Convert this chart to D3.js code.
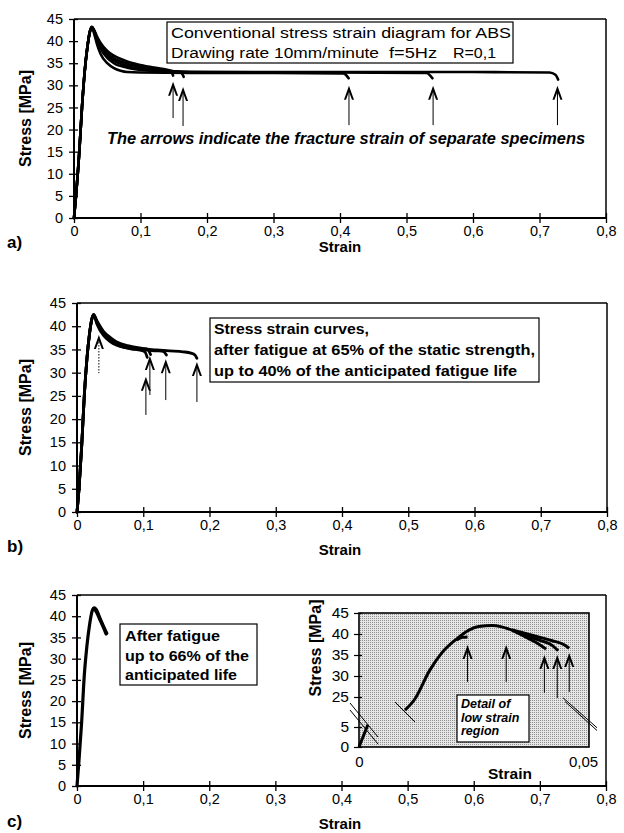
<!DOCTYPE html>
<html>
<head>
<meta charset="utf-8">
<script src="https://cdn.jsdelivr.net/npm/d3@7"></script>
<style>
  html, body { margin: 0; padding: 0; background: #fff; }
  svg { display: block; }
  text { font-family: "Liberation Sans", Arial, sans-serif; fill: #000; }
</style>
</head>
<body>
<svg id="chart" width="624" height="833"></svg>
<script>
// ---------------- DATA ----------------
const xTicks = [0, 0.1, 0.2, 0.3, 0.4, 0.5, 0.6, 0.7, 0.8];
const xTickLabels = ["0", "0,1", "0,2", "0,3", "0,4", "0,5", "0,6", "0,7", "0,8"];
const yTicks = [0, 5, 10, 15, 20, 25, 30, 35, 40, 45];
const yTickLabels = ["0", "5", "10", "15", "20", "25", "30", "35", "40", "45"];

// Panel a) : conventional stress-strain curves (strain, stress MPa)
const riseA = [[0,0],[0.003,5],[0.008,15],[0.012,25],[0.016,33],[0.02,38.5],[0.024,42.2],[0.027,43.2]];
const decayA1 = [[0.03,42.6],[0.035,40.9],[0.04,39.6],[0.05,37.8],[0.06,36.7],[0.08,35.4],[0.1,34.6],[0.12,34.0],[0.14,33.5],[0.146,33.2],[0.149,32.2]];
const decayA2 = [[0.03,42.4],[0.035,40.5],[0.04,39.1],[0.05,37.2],[0.06,36.1],[0.08,34.9],[0.1,34.2],[0.12,33.7],[0.14,33.3],[0.16,33.0],[0.165,31.9]];
const decayA3 = [[0.03,41.8],[0.035,39.1],[0.04,37.1],[0.05,35.0],[0.06,33.9],[0.07,33.3],[0.08,33.0],[0.1,32.9],[0.2,32.8],[0.3,32.8],[0.405,32.7],[0.413,31.6]];
const decayA4 = [[0.03,42.2],[0.035,40.0],[0.04,38.3],[0.05,36.2],[0.06,35.0],[0.08,34.0],[0.1,33.5],[0.15,33.1],[0.2,33.0],[0.4,32.9],[0.53,32.8],[0.539,31.6]];
const decayA5 = [[0.03,42.5],[0.035,40.5],[0.04,38.8],[0.05,36.8],[0.06,35.6],[0.08,34.4],[0.1,33.8],[0.15,33.2],[0.2,33.0],[0.4,33.0],[0.6,33.0],[0.715,32.9],[0.724,32.4],[0.728,31.3]];
// arrows: [strain, tip stress, tail stress]
const arrowsA = [[0.149,30.8,22.6],[0.164,29.6,20.8],[0.4135,29.9,21.0],[0.54,29.9,21.0],[0.727,29.9,21.0]];

// Panel b) : after fatigue at 65% up to 40% life
const riseB = [[0,0],[0.003,5],[0.007,14],[0.011,25],[0.015,33],[0.019,38.5],[0.022,41.3],[0.025,42.5]];
const decayB1 = [[0.03,40.8],[0.04,38.3],[0.05,37.0],[0.06,36.0],[0.08,35.2],[0.1,34.7],[0.103,34.4],[0.106,33.3]];
const decayB2 = [[0.03,41.2],[0.04,38.9],[0.05,37.6],[0.06,36.6],[0.08,35.7],[0.1,35.2],[0.107,35.0],[0.111,33.9]];
const decayB3 = [[0.03,40.5],[0.04,38.0],[0.05,36.7],[0.06,35.9],[0.08,35.2],[0.1,34.9],[0.12,34.7],[0.13,34.6],[0.135,33.8]];
const decayB4 = [[0.03,41.0],[0.04,38.6],[0.05,37.2],[0.06,36.3],[0.08,35.5],[0.1,35.1],[0.12,34.9],[0.14,34.7],[0.16,34.5],[0.172,34.2],[0.178,33.8],[0.181,33.1]];
const arrowsB = [[0.104,29.1,20.9],[0.110,33.6,25.2],[0.134,32.9,24.1],[0.181,32.3,23.7]];
const dottedArrowB = [[0.033,38.1,29.9]];

// Panel c) : after fatigue up to 66% of life
const curveC1 = [[0,0],[0.003,6],[0.007,15],[0.011,26],[0.015,33],[0.019,38],[0.023,41.3],[0.026,42.0],[0.029,41.6],[0.033,40.2],[0.037,38.7],[0.041,37.3],[0.045,36.0]];
const curveC2 = [[0.026,41.8],[0.03,40.8],[0.034,39.4],[0.038,38.0],[0.042,36.6],[0.044,35.8]];

// Inset (detail of low strain region)
const insetXTicks = [0, 0.05];
const insetXTickLabels = ["0", "0,05"];
const insetYTicks = [0, 5, 25, 30, 35, 40, 45];
const insetYTickLabels = ["0", "5", "25", "30", "35", "40", "45"];
const insetLow = [[0,0],[0.0019,6.3]];
const insetUp = [[0.0100,16.3],[0.012,23],[0.0154,31.4],[0.018,35.5],[0.0212,38.8],[0.024,41.0],[0.026,41.8],[0.029,42.0],[0.031,41.7],[0.0333,40.9]];
const insetE1 = [[0.0212,38.6],[0.0225,39.2],[0.0236,39.3]];
const insetE2 = [[0.0333,40.9],[0.036,39.4],[0.038,38.3],[0.0407,36.4]];
const insetE3 = [[0.0333,40.9],[0.036,39.8],[0.039,38.6],[0.042,37.3],[0.0433,36.0]];
const insetE4 = [[0.0333,41.0],[0.036,40.2],[0.039,39.3],[0.042,38.4],[0.0445,37.5],[0.0457,36.6]];
const insetArrows = [[0.0236,37.4,28.6],[0.032,37.4,28.6],[0.0403,35.0,26.0],[0.0431,35.0,24.3],[0.0457,35.5,26.2]];

// ---------------- DRAWING ----------------
const svg = d3.select("#chart");
const FONT_TICK = 14.5;

function makeLine(x, y) {
  return d3.line().x(d => x(d[0])).y(d => y(d[1])).curve(d3.curveMonotoneX);
}

function drawArrow(g, x, y, a, dotted) {
  const px = x(a[0]), tip = y(a[1]), tail = y(a[2]);
  g.append("line").attr("x1", px).attr("x2", px).attr("y1", tip + 4).attr("y2", tail)
    .attr("stroke", "#000").attr("stroke-width", 1)
    .attr("stroke-dasharray", dotted ? "1.5,1.5" : null);
  g.append("path")
    .attr("d", `M${px},${tip} L${px+5},${tip+14} L${px+3},${tip+14} L${px},${tip+6} L${px-3},${tip+14} L${px-5},${tip+14} Z`)
    .attr("fill", "#000");
}

function addText(g, t, x, y, size, opts = {}) {
  const el = g.append("text").attr("x", x).attr("y", y).attr("font-size", size).text(t);
  if (opts.bold) el.attr("font-weight", "bold");
  if (opts.italic) el.attr("font-style", "italic");
  if (opts.len) el.attr("textLength", opts.len).attr("lengthAdjust", "spacingAndGlyphs");
  return el;
}

function drawPanel(cfg) {
  const x = d3.scaleLinear().domain([0, 0.8]).range([cfg.x0, cfg.x1]);
  const y = d3.scaleLinear().domain([0, 45]).range([cfg.y0, cfg.y1]);
  const g = svg.append("g");

  // frame top & right
  g.append("line").attr("x1", x(0)).attr("x2", x(0.8)).attr("y1", y(45)).attr("y2", y(45))
    .attr("stroke", "#000").attr("stroke-width", 1.5);
  g.append("line").attr("x1", x(0.8)).attr("x2", x(0.8)).attr("y1", y(45)).attr("y2", y(0))
    .attr("stroke", "#000").attr("stroke-width", 1.5);

  // x axis
  const xa = g.append("g").attr("transform", `translate(0,${y(0)})`)
    .call(d3.axisBottom(x).tickValues(xTicks).tickFormat((d, i) => xTickLabels[i]).tickSize(5).tickPadding(3));
  xa.select(".domain").attr("stroke-width", 2.2).attr("d", `M${x(0)},0H${x(0.8)}`);
  xa.selectAll(".tick line").attr("y1", -5).attr("y2", 5).attr("stroke-width", 1.3);
  xa.selectAll(".tick text").attr("font-size", FONT_TICK).attr("font-family", "Liberation Sans, Arial, sans-serif");

  // y axis
  const ya = g.append("g").attr("transform", `translate(${x(0)},0)`)
    .call(d3.axisLeft(y).tickValues(yTicks).tickFormat((d, i) => yTickLabels[i]).tickSize(4).tickPadding(7));
  ya.select(".domain").attr("stroke-width", 2).attr("d", `M0,${y(0)}V${y(45)}`);
  ya.selectAll(".tick line").attr("x1", -5).attr("x2", 4).attr("stroke-width", 1.3);
  ya.selectAll(".tick text").attr("font-size", FONT_TICK).attr("font-family", "Liberation Sans, Arial, sans-serif");

  // labels
  g.append("text").attr("transform", `translate(${cfg.yLabelX},${(y(0)+y(45))/2}) rotate(-90)`)
    .attr("text-anchor", "middle").attr("font-size", 16).attr("font-weight", "bold").text("Stress [MPa]");
  g.append("text").attr("x", 340).attr("y", cfg.xLabelY).attr("text-anchor", "middle")
    .attr("font-size", 15).attr("font-weight", "bold").text("Strain");
  g.append("text").attr("x", 7).attr("y", cfg.panelLabelY)
    .attr("font-size", 17).attr("font-weight", "bold").text(cfg.panelLabel);

  return {g, x, y};
}

// ---- Panel a
{
  const {g, x, y} = drawPanel({x0: 74, x1: 606, y0: 218, y1: 19, yLabelX: 31, xLabelY: 252, panelLabelY: 248, panelLabel: "a)"});
  const line = makeLine(x, y);
  [decayA1, decayA2, decayA3, decayA4, decayA5].forEach(dc => {
    g.append("path").attr("d", line(riseA.concat(dc))).attr("fill", "none")
      .attr("stroke", "#000").attr("stroke-width", 2.6).attr("stroke-linejoin", "round").attr("stroke-linecap", "round");
  });
  arrowsA.forEach(a => drawArrow(g, x, y, a, false));

  g.append("rect").attr("x", 167).attr("y", 22).attr("width", 346).attr("height", 41)
    .attr("fill", "#fff").attr("stroke", "#000").attr("stroke-width", 1.2);
  addText(g, "Conventional stress strain diagram for ABS", 171, 38, 15.5, {len: 340});
  addText(g, "Drawing rate 10mm/minute", 171, 58, 15.5, {len: 208});
  addText(g, "f=5Hz", 389, 58, 15.5, {len: 48});
  addText(g, "R=0,1", 453, 58, 15.5, {len: 43});
  addText(g, "The arrows indicate the fracture strain of separate specimens", 107, 144, 16, {bold: true, italic: true, len: 478});
}

// ---- Panel b
{
  const {g, x, y} = drawPanel({x0: 77, x1: 607, y0: 512, y1: 303, yLabelX: 31, xLabelY: 555, panelLabelY: 552, panelLabel: "b)"});
  const line = makeLine(x, y);
  [decayB1, decayB2, decayB3, decayB4].forEach(dc => {
    g.append("path").attr("d", line(riseB.concat(dc))).attr("fill", "none")
      .attr("stroke", "#000").attr("stroke-width", 2.8).attr("stroke-linejoin", "round").attr("stroke-linecap", "round");
  });
  arrowsB.forEach(a => drawArrow(g, x, y, a, false));
  dottedArrowB.forEach(a => drawArrow(g, x, y, a, true));

  g.append("rect").attr("x", 210).attr("y", 318).attr("width", 329).attr("height", 64)
    .attr("fill", "#fff").attr("stroke", "#000").attr("stroke-width", 1.2);
  addText(g, "Stress strain curves,", 214, 334, 15.5, {bold: true, len: 155});
  addText(g, "after fatigue at 65% of the static strength,", 214, 355, 15.5, {bold: true, len: 321});
  addText(g, "up to 40% of the anticipated fatigue life", 214, 376, 15.5, {bold: true, len: 303});
}

// ---- Panel c
{
  const {g, x, y} = drawPanel({x0: 77, x1: 606, y0: 786, y1: 595, yLabelX: 31, xLabelY: 829, panelLabelY: 827, panelLabel: "c)"});
  const line = makeLine(x, y);
  [curveC1, curveC2].forEach(c => {
    g.append("path").attr("d", line(c)).attr("fill", "none")
      .attr("stroke", "#000").attr("stroke-width", 3.2).attr("stroke-linejoin", "round").attr("stroke-linecap", "round");
  });
  g.append("rect").attr("x", 120).attr("y", 624).attr("width", 137).attr("height", 61)
    .attr("fill", "#fff").attr("stroke", "#000").attr("stroke-width", 1.2);
  addText(g, "After fatigue", 125, 641, 15.5, {bold: true, len: 95});
  addText(g, "up to 66% of the", 125, 661, 15.5, {bold: true, len: 124});
  addText(g, "anticipated life", 125, 680, 15.5, {bold: true, len: 112});

  // ---- Inset
  const ix = d3.scaleLinear().domain([0, 0.05]).range([359, 589]);
  const iy = d3.scaleLinear().domain([0, 5, 25, 45]).range([747, 727, 697, 613]);
  const ig = svg.append("g");
  const defs = svg.append("defs");
  const pat = defs.append("pattern").attr("id", "stipple").attr("width", 2).attr("height", 2)
    .attr("patternUnits", "userSpaceOnUse");
  pat.append("rect").attr("width", 2).attr("height", 2).attr("fill", "#e6e6e6");
  pat.append("rect").attr("width", 1).attr("height", 1).attr("fill", "#8f8f8f");

  ig.append("rect").attr("x", ix(0)).attr("y", iy(45)).attr("width", ix(0.05) - ix(0)).attr("height", iy(0) - iy(45))
    .attr("fill", "url(#stipple)").attr("stroke", "#000").attr("stroke-width", 1.6);

  const iya = ig.append("g").attr("transform", `translate(${ix(0)},0)`)
    .call(d3.axisLeft(iy).tickValues(insetYTicks).tickFormat((d, i) => insetYTickLabels[i]).tickSize(4).tickPadding(6));
  iya.select(".domain").remove();
  iya.selectAll(".tick line").attr("x1", -5).attr("x2", 3).attr("stroke-width", 1.2);
  iya.selectAll(".tick text").attr("font-size", 15.5).attr("font-family", "Liberation Sans, Arial, sans-serif");

  const ixa = ig.append("g").attr("transform", `translate(0,${iy(0)})`)
    .call(d3.axisBottom(ix).tickValues(insetXTicks).tickFormat((d, i) => insetXTickLabels[i]).tickSize(0).tickPadding(9));
  ixa.select(".domain").remove();
  ixa.selectAll(".tick text").attr("font-size", 15).attr("font-family", "Liberation Sans, Arial, sans-serif");
  ixa.selectAll(".tick").filter(d => d === 0.05).select("text").attr("dx", -6);

  ig.append("text").attr("transform", `translate(321,648) rotate(-90)`)
    .attr("text-anchor", "middle").attr("font-size", 16).attr("font-weight", "bold").text("Stress [MPa]");
  ig.append("text").attr("x", 510).attr("y", 779).attr("text-anchor", "middle")
    .attr("font-size", 15.5).attr("font-weight", "bold").text("Strain");

  const il = makeLine(ix, iy);
  [insetLow, insetUp, insetE1, insetE2, insetE3, insetE4].forEach(c => {
    ig.append("path").attr("d", il(c)).attr("fill", "none")
      .attr("stroke", "#000").attr("stroke-width", 3).attr("stroke-linejoin", "round").attr("stroke-linecap", "butt");
  });
  insetArrows.forEach(a => drawArrow(ig, ix, iy, a, false));

  // axis-break marks
  const bx = ix(0), by = iy(5);
  const brk = (x1, y1, x2, y2) => ig.append("line").attr("x1", x1).attr("y1", y1).attr("x2", x2).attr("y2", y2)
    .attr("stroke", "#000").attr("stroke-width", 1);
  brk(bx - 9, by - 24, bx + 19, by + 10);
  brk(bx - 9, by - 17, bx + 19, by + 17);
  const rx = ix(0.0100), ry = iy(16.3);
  brk(rx - 10, ry - 8, rx + 10, ry + 12);
  const ex = ix(0.05);
  brk(ex - 26, iy(24.5), ex + 8, iy(24.5) + 30);
  brk(ex - 24, iy(22), ex + 8, iy(22) + 29);

  ig.append("rect").attr("x", 457).attr("y", 695).attr("width", 72).attr("height", 47)
    .attr("fill", "#fff").attr("stroke", "#000").attr("stroke-width", 1.2);
  ["Detail of", "low strain", "region"].forEach((t, i) =>
    ig.append("text").attr("x", 461).attr("y", 708 + i * 13.5).attr("font-size", 12.5).attr("font-weight", "bold")
      .attr("font-style", "italic").text(t));
}
</script>
</body>
</html>
